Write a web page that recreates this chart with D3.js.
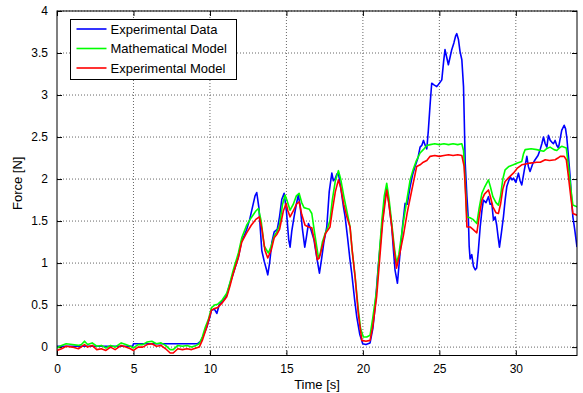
<!DOCTYPE html>
<html>
<head>
<meta charset="utf-8">
<script src="https://cdn.jsdelivr.net/npm/d3@7"></script>
<style>
  body { margin: 0; background: #fff; }
  svg text { font-family: "Liberation Sans", Arial, sans-serif; fill: #000; }
</style>
</head>
<body>
<svg id="chart"></svg>
<script>
// [time s, force N]
const experimentalData = [[0,0.01],[1,0.01],[2,0.01],[3,0.01],[4,0.01],[4.95,0.01],[5.0,0.04],[6,0.04],[7,0.04],[8,0.04],[9.2,0.04],[9.4,0.07],[9.6,0.15],[9.8,0.24],[10.0,0.36],[10.1,0.44],[10.3,0.45],[10.45,0.40],[10.6,0.50],[10.77,0.54],[10.95,0.57],[11.1,0.62],[11.3,0.75],[11.53,0.88],[11.7,0.98],[11.86,1.07],[12.08,1.27],[12.25,1.33],[12.4,1.40],[12.6,1.52],[12.8,1.68],[12.95,1.80],[13.06,1.84],[13.2,1.66],[13.39,1.15],[13.55,1.02],[13.7,0.92],[13.78,0.86],[13.9,1.00],[14.05,1.25],[14.2,1.37],[14.4,1.40],[14.55,1.55],[14.7,1.76],[14.85,1.83],[15.0,1.62],[15.15,1.28],[15.24,1.19],[15.35,1.38],[15.5,1.55],[15.65,1.70],[15.78,1.81],[15.9,1.68],[16.05,1.40],[16.2,1.19],[16.3,1.30],[16.44,1.47],[16.6,1.40],[16.8,1.28],[17.0,1.05],[17.16,0.88],[17.3,1.05],[17.45,1.25],[17.64,1.43],[17.8,1.85],[17.97,2.07],[18.07,1.98],[18.18,2.00],[18.3,2.06],[18.4,2.07],[18.55,1.90],[18.73,1.67],[18.84,1.55],[19.0,1.30],[19.15,1.05],[19.27,0.88],[19.45,0.58],[19.6,0.36],[19.8,0.15],[19.99,0.04],[20.2,0.03],[20.47,0.05],[20.65,0.22],[20.8,0.48],[21.0,0.95],[21.24,1.43],[21.4,1.70],[21.56,1.89],[21.7,1.72],[21.89,1.43],[22.0,1.15],[22.1,0.92],[22.26,0.76],[22.43,1.12],[22.6,1.45],[22.76,1.71],[22.9,1.70],[23.09,1.91],[23.25,2.05],[23.41,2.15],[23.6,2.25],[23.74,2.38],[23.85,2.40],[23.96,2.46],[24.08,2.40],[24.18,2.36],[24.28,2.58],[24.4,2.90],[24.5,3.14],[24.65,3.12],[24.83,3.10],[25.0,3.14],[25.16,3.18],[25.28,3.40],[25.37,3.54],[25.48,3.45],[25.59,3.36],[25.7,3.45],[25.81,3.54],[25.95,3.62],[26.06,3.70],[26.14,3.73],[26.25,3.66],[26.35,3.52],[26.47,3.42],[26.58,3.10],[26.63,2.70],[26.69,2.19],[26.8,1.80],[26.9,1.51],[26.95,1.20],[27.01,1.05],[27.12,1.10],[27.23,0.96],[27.35,0.92],[27.44,0.94],[27.55,1.15],[27.67,1.43],[27.78,1.62],[27.88,1.75],[28.05,1.72],[28.21,1.79],[28.32,1.70],[28.43,1.71],[28.54,1.51],[28.65,1.55],[28.75,1.45],[28.85,1.30],[28.93,1.19],[29.05,1.35],[29.19,1.55],[29.3,1.75],[29.41,1.91],[29.52,1.97],[29.63,2.03],[29.75,1.99],[29.85,2.01],[30.0,1.96],[30.17,2.07],[30.28,1.98],[30.39,1.93],[30.55,2.10],[30.72,2.27],[30.82,2.15],[30.93,2.09],[31.1,2.18],[31.26,2.23],[31.45,2.28],[31.59,2.35],[31.7,2.42],[31.81,2.50],[31.92,2.42],[32.03,2.38],[32.13,2.52],[32.25,2.46],[32.35,2.44],[32.46,2.42],[32.57,2.46],[32.68,2.40],[32.79,2.37],[32.9,2.48],[33.0,2.58],[33.16,2.64],[33.25,2.60],[33.33,2.50],[33.45,2.25],[33.55,2.03],[33.65,1.75],[33.73,1.55],[33.85,1.40],[34,1.19]];

const mathematicalModel = [[0,-0.01],[0.3,0.02],[0.6,0.04],[1.0,0.03],[1.4,0.02],[1.6,0.03],[1.8,0.07],[2.0,0.03],[2.3,0.05],[2.6,0.01],[2.9,0.02],[3.2,-0.01],[3.5,0.02],[3.8,0.0],[4.2,0.05],[4.5,0.03],[4.8,0.01],[5.0,-0.01],[5.3,0.03],[5.6,0.03],[5.9,0.06],[6.2,0.07],[6.5,0.04],[6.8,0.05],[7.1,0.02],[7.4,-0.03],[7.6,-0.03],[7.9,0.02],[8.2,0.01],[8.5,0.02],[8.8,0.0],[9.1,0.02],[9.3,0.04],[9.5,0.12],[9.7,0.24],[9.9,0.33],[10.1,0.47],[10.3,0.50],[10.5,0.51],[10.8,0.56],[11.1,0.64],[11.3,0.76],[11.53,0.92],[11.86,1.12],[12.08,1.30],[12.4,1.45],[12.7,1.54],[13.0,1.62],[13.17,1.65],[13.35,1.50],[13.55,1.20],[13.82,1.12],[14.0,1.20],[14.2,1.32],[14.37,1.37],[14.55,1.45],[14.75,1.70],[14.91,1.81],[15.05,1.74],[15.24,1.63],[15.45,1.70],[15.65,1.80],[15.83,1.83],[16.0,1.72],[16.15,1.66],[16.33,1.65],[16.5,1.64],[16.66,1.59],[16.85,1.35],[17.09,1.07],[17.2,1.10],[17.35,1.25],[17.53,1.35],[17.7,1.42],[17.85,1.51],[18.0,1.75],[18.2,1.98],[18.4,2.10],[18.55,2.00],[18.75,1.80],[18.95,1.62],[19.16,1.43],[19.3,1.15],[19.49,0.84],[19.7,0.45],[19.85,0.22],[20.03,0.12],[20.25,0.12],[20.47,0.14],[20.65,0.35],[20.9,0.68],[21.05,1.05],[21.24,1.51],[21.4,1.80],[21.56,1.95],[21.7,1.78],[21.89,1.47],[22.05,1.20],[22.2,1.00],[22.35,1.10],[22.5,1.30],[22.7,1.55],[22.9,1.78],[23.09,1.99],[23.3,2.12],[23.5,2.22],[23.74,2.31],[23.95,2.35],[24.18,2.40],[24.4,2.41],[24.7,2.42],[25.0,2.41],[25.3,2.42],[25.6,2.41],[25.9,2.42],[26.2,2.41],[26.47,2.42],[26.58,2.34],[26.68,2.00],[26.8,1.55],[27.0,1.54],[27.2,1.52],[27.45,1.47],[27.6,1.65],[27.78,1.83],[27.95,1.90],[28.21,1.99],[28.35,1.90],[28.5,1.79],[28.7,1.72],[28.86,1.69],[29.0,1.80],[29.15,2.00],[29.3,2.11],[29.55,2.15],[29.84,2.17],[30.1,2.19],[30.39,2.21],[30.5,2.30],[30.61,2.35],[31.0,2.36],[31.37,2.35],[31.81,2.33],[32.0,2.36],[32.24,2.38],[32.5,2.35],[32.68,2.34],[32.85,2.37],[33.0,2.39],[33.3,2.37],[33.44,2.15],[33.6,1.88],[33.73,1.69],[34,1.67]];

const experimentalModel = [[0,-0.04],[0.3,-0.02],[0.6,0.01],[1.0,0.0],[1.4,-0.02],[1.8,0.03],[2.0,0.0],[2.3,0.02],[2.6,-0.03],[2.9,-0.02],[3.2,-0.04],[3.5,0.0],[3.8,-0.03],[4.2,0.02],[4.5,0.0],[4.8,-0.02],[5.0,-0.04],[5.3,0.0],[5.6,0.0],[5.9,0.03],[6.2,0.04],[6.5,0.01],[6.8,0.02],[7.1,-0.02],[7.4,-0.07],[7.6,-0.07],[7.9,-0.02],[8.2,-0.03],[8.5,-0.02],[8.8,-0.03],[9.1,-0.01],[9.3,0.0],[9.5,0.08],[9.79,0.24],[10.1,0.44],[10.3,0.46],[10.5,0.47],[10.77,0.52],[11.1,0.60],[11.3,0.72],[11.53,0.88],[11.86,1.07],[12.08,1.25],[12.4,1.36],[12.7,1.45],[13.0,1.52],[13.23,1.55],[13.4,1.40],[13.6,1.15],[13.78,1.06],[14.0,1.15],[14.2,1.30],[14.37,1.34],[14.55,1.40],[14.8,1.62],[14.98,1.71],[15.1,1.62],[15.24,1.55],[15.45,1.62],[15.65,1.70],[15.83,1.73],[16.0,1.58],[16.22,1.45],[16.45,1.43],[16.66,1.42],[16.85,1.25],[17.02,1.04],[17.15,1.06],[17.35,1.20],[17.55,1.35],[17.85,1.43],[18.0,1.62],[18.2,1.85],[18.4,1.99],[18.55,1.90],[18.75,1.70],[18.95,1.55],[19.16,1.43],[19.3,1.15],[19.49,0.84],[19.7,0.40],[19.93,0.08],[20.2,0.07],[20.47,0.08],[20.65,0.25],[20.9,0.60],[21.1,1.05],[21.3,1.50],[21.56,1.87],[21.7,1.70],[21.89,1.43],[22.05,1.15],[22.2,0.94],[22.4,1.10],[22.65,1.33],[22.9,1.60],[23.2,1.87],[23.52,2.15],[23.74,2.17],[23.95,2.20],[24.18,2.22],[24.4,2.27],[24.7,2.28],[25.0,2.27],[25.3,2.28],[25.6,2.29],[25.9,2.28],[26.2,2.29],[26.47,2.28],[26.62,2.15],[26.72,1.80],[26.8,1.43],[27.01,1.43],[27.2,1.40],[27.45,1.36],[27.6,1.55],[27.78,1.75],[27.95,1.82],[28.21,1.87],[28.35,1.78],[28.5,1.67],[28.7,1.60],[28.86,1.59],[29.0,1.70],[29.15,1.88],[29.3,1.97],[29.55,2.02],[29.84,2.07],[30.1,2.13],[30.39,2.17],[30.65,2.18],[30.93,2.19],[31.37,2.20],[31.6,2.20],[31.92,2.23],[32.2,2.22],[32.57,2.23],[32.75,2.25],[32.9,2.27],[33.16,2.27],[33.3,2.23],[33.44,2.03],[33.6,1.78],[33.73,1.59],[34,1.57]];

const xTicks = [0, 5, 10, 15, 20, 25, 30];
const yTicks = [0, 0.5, 1, 1.5, 2, 2.5, 3, 3.5, 4];

const seriesNames = ['Experimental Data', 'Mathematical Model', 'Experimental Model'];
const seriesColours = ['#0000ff', '#00ff00', '#ff0000'];
const seriesData = [experimentalData, mathematicalModel, experimentalModel];

const config = {
    containerWidth: 583,
    containerHeight: 393,
    margin: { top: 11, right: 6, bottom: 37.5, left: 57 }
};
const width = config.containerWidth - config.margin.left - config.margin.right;
const height = config.containerHeight - config.margin.top - config.margin.bottom;

const svg = d3.select('#chart')
    .attr('width', config.containerWidth)
    .attr('height', config.containerHeight);

const chart = svg.append('g')
    .attr('transform', `translate(${config.margin.left},${config.margin.top})`);

const xScale = d3.scaleLinear().domain([0, 34]).range([0, width]);
const yScale = d3.scaleLinear().domain([-0.1, 4]).range([height, 0]);

// dotted grid
chart.append('g').selectAll('line')
    .data(xTicks.slice(1))
    .join('line')
    .attr('x1', d => xScale(d)).attr('x2', d => xScale(d))
    .attr('y1', 0).attr('y2', height)
    .attr('stroke', '#666').attr('stroke-dasharray', '1,2');
chart.append('g').selectAll('line')
    .data(yTicks)
    .join('line')
    .attr('x1', 0).attr('x2', width)
    .attr('y1', d => yScale(d)).attr('y2', d => yScale(d))
    .attr('stroke', '#666').attr('stroke-dasharray', '1,2');

// axes, ticks inward on every side
const xAxisG = chart.append('g')
    .attr('transform', `translate(0,${height})`)
    .call(d3.axisBottom(xScale).tickValues(xTicks).tickSize(-5).tickPadding(9).tickSizeOuter(0));
chart.append('g')
    .call(d3.axisTop(xScale).tickValues(xTicks).tickSize(-5).tickFormat('').tickSizeOuter(0));
const yAxisG = chart.append('g')
    .call(d3.axisLeft(yScale).tickValues(yTicks).tickSize(-5).tickPadding(9).tickSizeOuter(0)
        .tickFormat(d3.format('')));
chart.append('g')
    .attr('transform', `translate(${width},0)`)
    .call(d3.axisRight(yScale).tickValues(yTicks).tickSize(-5).tickFormat('').tickSizeOuter(0));

chart.selectAll('.domain').remove();
chart.selectAll('.tick text').attr('font-size', 12).attr('font-family', '"Liberation Sans", Arial, sans-serif');

chart.append('defs').append('clipPath').attr('id', 'clip')
    .append('rect').attr('width', width).attr('height', height);

const line = d3.line()
    .x(d => xScale(d[0]))
    .y(d => yScale(d[1]));

chart.append('g').attr('clip-path', 'url(#clip)')
    .selectAll('path')
    .data(seriesData)
    .join('path')
    .attr('d', line)
    .attr('fill', 'none')
    .attr('stroke', (d, i) => seriesColours[i])
    .attr('stroke-width', 1.6)
    .attr('stroke-linejoin', 'round');

chart.append('rect')
    .attr('width', width).attr('height', height)
    .attr('fill', 'none').attr('stroke', '#000');

// axis titles
svg.append('text')
    .attr('x', config.margin.left + width / 2)
    .attr('y', 389)
    .attr('text-anchor', 'middle')
    .attr('font-size', 13)
    .text('Time [s]');
svg.append('text')
    .attr('transform', `translate(22,${config.margin.top + height / 2}) rotate(-90)`)
    .attr('text-anchor', 'middle')
    .attr('font-size', 13)
    .text('Force [N]');

// legend
const legend = svg.append('g').attr('transform', 'translate(70.5,19.5)');
legend.append('rect')
    .attr('width', 166).attr('height', 60)
    .attr('fill', '#fff').attr('stroke', '#000');
const rows = legend.selectAll('.row')
    .data(seriesNames)
    .join('g')
    .attr('class', 'row')
    .attr('transform', (d, i) => `translate(0,${9.5 + i * 19.5})`);
rows.append('line')
    .attr('x1', 6).attr('x2', 36)
    .attr('stroke', (d, i) => seriesColours[i])
    .attr('stroke-width', 1.6);
rows.append('text')
    .attr('x', 40).attr('dy', '0.35em')
    .attr('font-size', 13)
    .text(d => d);
</script>
</body>
</html>
